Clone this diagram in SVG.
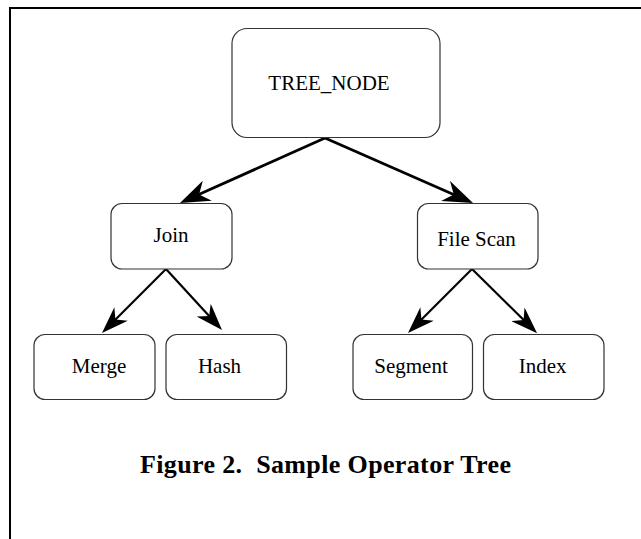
<svg xmlns="http://www.w3.org/2000/svg" width="641" height="539" viewBox="0 0 641 539">
<style>
.box{fill:#fff;stroke:#333;stroke-width:1.2}
.lbl{font-family:"Liberation Serif","Times New Roman",serif;font-size:21px;fill:#000;text-anchor:middle}
.cap{font-family:"Liberation Serif","Times New Roman",serif;font-size:26px;font-weight:bold;fill:#000}
.e1{stroke:#000;stroke-width:2.8;fill:none;marker-end:url(#h1)}
.e2{stroke:#000;stroke-width:2.2;fill:none;marker-end:url(#h2)}
</style>
<defs>
<marker id="h1" markerUnits="userSpaceOnUse" markerWidth="30" markerHeight="22" refX="10" refY="11" orient="auto"><path d="M30,11 L0,0 L9,11 L0,22 Z" fill="#000"/></marker>
<marker id="h2" markerUnits="userSpaceOnUse" markerWidth="27" markerHeight="19" refX="10" refY="9.5" orient="auto"><path d="M27,9.5 L0,0 L8,9.5 L0,19 Z" fill="#000"/></marker>
</defs>
<path d="M10 540 V8 H642" fill="none" stroke="#000" stroke-width="2"/>
<g id="connectors">
<line class="e1" x1="325" y1="138" x2="198.2" y2="194.8"/>
<line class="e1" x1="325" y1="138" x2="454.7" y2="195"/>
<line class="e2" x1="166" y1="269" x2="114" y2="321"/>
<line class="e2" x1="166" y1="269" x2="210.5" y2="317.5"/>
<line class="e2" x1="472" y1="269" x2="420" y2="321"/>
<line class="e2" x1="472" y1="269" x2="525" y2="321.3"/>
</g>
<g id="tree_node"><rect class="box" x="232" y="28.5" width="208" height="109" rx="15"/><text class="lbl" x="329" y="89.5">TREE_NODE</text></g>
<g id="join"><rect class="box" x="111" y="203.5" width="121" height="65.5" rx="11"/><text class="lbl" x="171" y="241.5">Join</text></g>
<g id="filescan"><rect class="box" x="417.5" y="203.5" width="120.5" height="65.5" rx="11"/><text class="lbl" x="476.5" y="246">File Scan</text></g>
<g id="merge"><rect class="box" x="34" y="334.5" width="121" height="65" rx="11"/><text class="lbl" x="99" y="372.5">Merge</text></g>
<g id="hash"><rect class="box" x="166" y="334.5" width="120.5" height="65" rx="11"/><text class="lbl" x="219.5" y="372.5">Hash</text></g>
<g id="segment"><rect class="box" x="353" y="334.5" width="119.5" height="65" rx="11"/><text class="lbl" x="411" y="372.5">Segment</text></g>
<g id="index"><rect class="box" x="483.5" y="334.5" width="120.5" height="65" rx="11"/><text class="lbl" x="542.7" y="372.5">Index</text></g>
<text class="cap" x="140" y="472.5" textLength="371" lengthAdjust="spacing" xml:space="preserve">Figure 2.  Sample Operator Tree</text>
</svg>
